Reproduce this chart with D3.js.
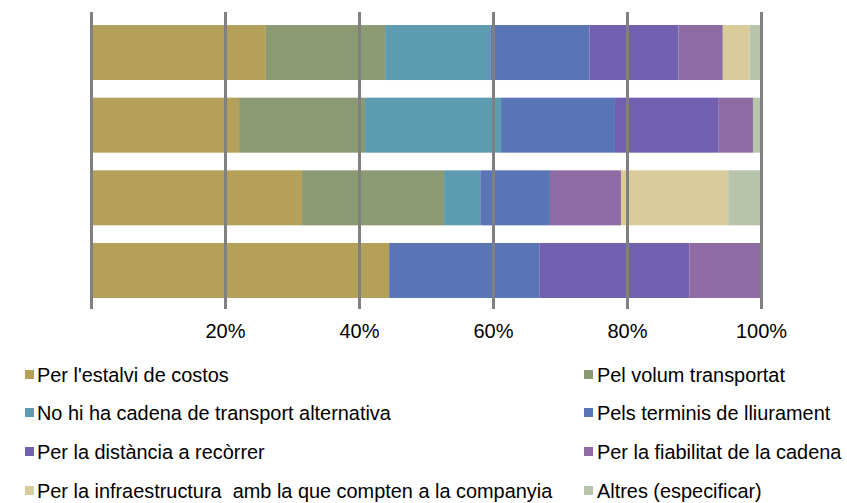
<!DOCTYPE html>
<html>
<head>
<meta charset="utf-8">
<script src="https://cdn.jsdelivr.net/npm/d3@7"></script>
<style>
  body { margin: 0; background: #fff; }
  svg text { font-family: "Liberation Sans", Arial, sans-serif; fill: #000; }
</style>
</head>
<body>
<div id="chart"></div>
<script>
// one row per bar, top to bottom (no row labels in the source)
var categories = ['1', '2', '3', '4'];

var seriesNames = [
	"Per l'estalvi de costos",
	'Pel volum transportat',
	'No hi ha cadena de transport alternativa',
	'Pels terminis de lliurament',
	'Per la distància a recòrrer',
	'Per la fiabilitat de la cadena',
	'Per la infraestructura  amb la que compten a la companyia',
	'Altres (especificar)'
];

var costos     = [26.1, 22.1, 31.5, 44.5];
var volum      = [17.8, 18.8, 21.2, 0];
var noCadena   = [15.7, 20.3, 5.4, 0];
var terminis   = [14.8, 17.0, 10.4, 22.4];
var distancia  = [13.3, 15.5, 0, 22.4];
var fiabilitat = [6.6, 5.1, 10.6, 10.7];
var infra      = [4.0, 0, 16.0, 0];
var altres     = [1.7, 1.2, 4.9, 0];

var tickValues = [0, 0.2, 0.4, 0.6, 0.8, 1];

var colors = ['#B5A05A', '#8B9A72', '#5C9BB0', '#5A75B5', '#715FB0', '#8F6BA3', '#DACB9A', '#B8C4A9'];

function createStackedBars(elementName) {
	var width = 847, height = 503;
	var left = 91, right = 761, top = 16.2, bottom = 306.8;

	var allSeries = [costos, volum, noCadena, terminis, distancia, fiabilitat, infra, altres];
	var rows = categories.map(function(c, i) {
		var row = {cat: c};
		seriesNames.forEach(function(name, j) { row[name] = allSeries[j][i]; });
		return row;
	});

	var stacked = d3.stack().keys(seriesNames).offset(d3.stackOffsetExpand)(rows);

	var xscale = d3.scaleLinear().domain([0, 1]).range([left, right]);
	var yscale = d3.scaleBand().domain(categories).range([top, bottom])
		.paddingInner(0.243).paddingOuter(0.1215);
	var color = d3.scaleOrdinal().domain(seriesNames).range(colors);

	var svg = d3.select(elementName).append('svg')
		.attr('width', width)
		.attr('height', height);

	svg.append('g').selectAll('g').data(stacked)
		.enter().append('g')
		.style('fill', function(d) { return color(d.key); })
		.selectAll('rect').data(function(d) { return d; })
		.enter().append('rect')
		.attr('x', function(d) { return xscale(d[0]); })
		.attr('y', function(d) { return yscale(d.data.cat); })
		.attr('width', function(d) { return xscale(d[1]) - xscale(d[0]); })
		.attr('height', yscale.bandwidth());

	// gridlines + labels, drawn over the bars like the original
	var axisY = 309;
	var haxis = d3.axisBottom(xscale)
		.tickValues(tickValues)
		.tickSizeInner(-(axisY - 12))
		.tickSizeOuter(0)
		.tickPadding(15)
		.tickFormat(function(d) { return d === 0 ? '' : d3.format('.0%')(d); });

	var hguide = svg.append('g').attr('transform', 'translate(0,' + axisY + ')');
	haxis(hguide);
	hguide.select('.domain').remove();
	hguide.selectAll('line')
		.style('stroke', '#808080')
		.style('stroke-width', 3);
	hguide.selectAll('text')
		.style('font-family', '"Liberation Sans", Arial, sans-serif')
		.style('font-size', '20px')
		.style('fill', '#000');

	// legend: two columns, four rows
	var legendCols = [{sx: 25, tx: 37}, {sx: 584, tx: 597}];
	var legendRows = [382, 420, 459, 498];

	var legend = svg.append('g').selectAll('g').data(seriesNames)
		.enter().append('g')
		.attr('transform', function(d, i) {
			return 'translate(0,' + legendRows[Math.floor(i / 2)] + ')';
		});

	legend.append('rect')
		.attr('x', function(d, i) { return legendCols[i % 2].sx; })
		.attr('y', -12)
		.attr('width', 9)
		.attr('height', 9)
		.style('fill', function(d) { return color(d); });

	legend.append('text')
		.attr('x', function(d, i) { return legendCols[i % 2].tx; })
		.attr('y', 0)
		.style('font-size', '19.9px')
		.style('white-space', 'pre')
		.text(function(d) { return d; });
}

createStackedBars('#chart');
</script>
</body>
</html>
